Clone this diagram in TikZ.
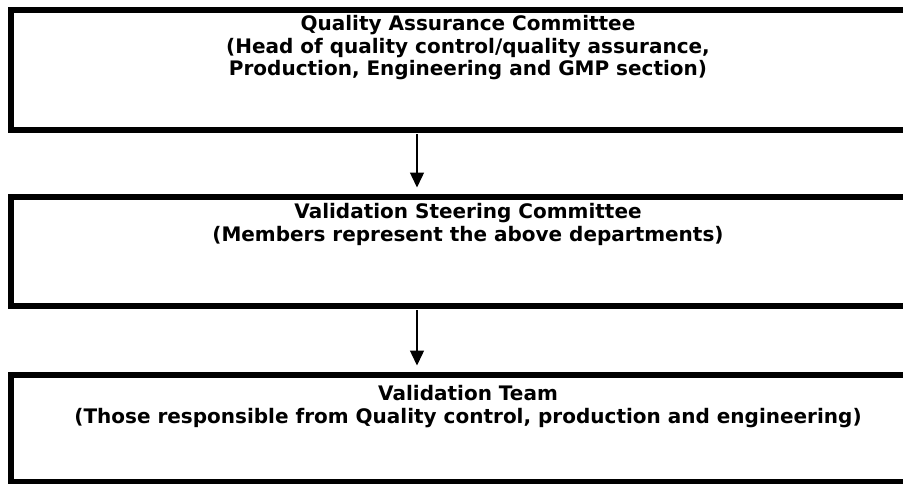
\documentclass[tikz,border=0pt]{standalone}
\usepackage{fontspec}
\setsansfont{DejaVu Sans}
\usetikzlibrary{positioning,arrows.meta}

\begin{document}
\begin{tikzpicture}[x=1pt,y=-1pt,
    box/.style={draw,line width=6pt,minimum width=914pt,inner sep=0pt},
    txt/.style={align=center,inner sep=0pt,
      font=\sffamily\bfseries\fontsize{20}{22.8}\selectfont},
    link/.style={line width=1.4pt,-{Triangle[width=14pt,length=15pt]},
      shorten <=1pt,shorten >=6pt}]
\useasboundingbox (0,0) rectangle (903,483);
\clip (0,0) rectangle (903,483);

\node (qac) [box,minimum height=120pt] at (468,70) {};
\node (vsc) [box,minimum height=109.5pt] at (468,251.25) {};
\node (vt) [box,minimum height=107.5pt] at (468,428.25) {};

\node (qact) [txt,below=8pt of qac.north]
    {Quality Assurance Committee\\
     (Head of quality control/quality assurance,\\
     Production, Engineering and GMP section)};
\node (vsct) [txt,below=10pt of vsc.north]
    {Validation Steering Committee\\
     (Members represent the above departments)};
\node (vtt) [txt,below=14pt of vt.north]
    {Validation Team\\
     (Those responsible from Quality control, production and engineering)};

\coordinate (ax) at (417,0);
\draw[link] (qac.south -| ax) -- (vsc.north -| ax);
\draw[link] (vsc.south -| ax) -- (vt.north -| ax);

\end{tikzpicture}
\end{document}
